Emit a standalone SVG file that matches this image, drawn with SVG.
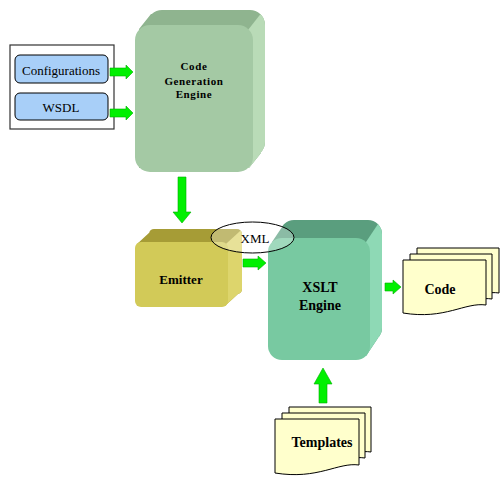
<svg xmlns="http://www.w3.org/2000/svg" width="500" height="483" viewBox="0 0 500 483">
<style>
.lbl{font-family:"Liberation Serif","DejaVu Serif",serif;fill:#000}
.b{font-weight:bold;text-anchor:middle}
.arr{fill:#00f000;stroke:#00b000;stroke-width:0.6}
.page{fill:#ffffcc;stroke:#000;stroke-width:1}
.cfg{fill:#a8cff8;stroke:#000;stroke-width:1}
</style>
<defs>
<clipPath id="cgBack"><rect x="147" y="10" width="118" height="147" rx="15"/><polygon points="139,29 151,14 261,14 261,153 249,168 139,168"/></clipPath>
<clipPath id="emBack"><rect x="149" y="229" width="93" height="65" rx="5"/><polygon points="137,244 151,231 240,231 240,292 226,305 137,305"/></clipPath>
<clipPath id="xsBack"><rect x="280" y="220" width="102" height="122" rx="14"/><polygon points="272,242 284,224 378,224 378,338 366,356 272,356"/></clipPath>
</defs>
<rect width="500" height="483" fill="#fff"/>

<g id="inputs">
<rect x="10" y="45" width="104" height="84" fill="#fff" stroke="#333" stroke-width="1.2"/>
</g>
<g id="configurations">
<rect class="cfg" x="15" y="55" width="93" height="28" rx="5"/>
<text class="lbl" x="61" y="75" font-size="13" text-anchor="middle">Configurations</text>
</g>
<g id="wsdl">
<rect class="cfg" x="15" y="93" width="93" height="27" rx="5"/>
<text class="lbl" x="61" y="112" font-size="13" text-anchor="middle">WSDL</text>
</g>

<g id="codegen">
<g clip-path="url(#cgBack)">
<rect x="130" y="0" width="150" height="180" fill="#8fb48f"/>
<polygon points="237,44 270,2 290,2 290,190 237,190" fill="#b9dbb7"/>
</g>
<rect x="135" y="25" width="118" height="147" rx="15" fill="#a4c9a4"/>
<text class="lbl b" x="194" y="70" font-size="11" letter-spacing="0.6">Code</text>
<text class="lbl b" x="194" y="85" font-size="11" letter-spacing="0.6">Generation</text>
<text class="lbl b" x="194" y="98" font-size="11" letter-spacing="0.6">Engine</text>
</g>

<g id="emitter">
<g clip-path="url(#emBack)">
<rect x="130" y="220" width="120" height="95" fill="#a69c36"/>
<polygon points="215,254 250,222 260,222 260,320 215,320" fill="#ddd56c"/>
</g>
<rect x="135" y="242" width="93" height="65" rx="6" fill="#d2ca58"/>
<text class="lbl b" x="181" y="284" font-size="13">Emitter</text>
</g>

<g id="xslt">
<g clip-path="url(#xsBack)">
<rect x="265" y="210" width="125" height="155" fill="#5a9e7e"/>
<polygon points="354,260 390,206 400,206 400,370 354,370" fill="#8ed9b5"/>
</g>
<rect x="268" y="238" width="102" height="122" rx="14" fill="#78c9a1"/>
<text class="lbl b" x="320" y="292" font-size="14">XSLT</text>
<text class="lbl b" x="320" y="310" font-size="14">Engine</text>
</g>

<g id="xml">
<ellipse cx="252.5" cy="237.5" rx="41.5" ry="15.5" fill="#fff" fill-opacity="0.3" stroke="#000" stroke-width="1"/>
<text class="lbl" x="255" y="243" font-size="13" text-anchor="middle">XML</text>
</g>

<g id="code">
<path class="page" d="M417,248 H499 V293 C480,290 460,305 417,300 Z"/>
<path class="page" d="M410,254 H492 V299 C473,296 453,311 410,306 Z"/>
<path class="page" d="M403,260 H486 V305 C465,302 445,320 403,313 Z"/>
<text class="lbl b" x="440" y="294" font-size="14">Code</text>
</g>

<g id="templates">
<path class="page" d="M289,407 H371 V452 C352,449 332,464 289,459 Z"/>
<path class="page" d="M282,413 H365 V458 C345,455 325,470 282,465 Z"/>
<path class="page" d="M275,419 H359 V465 C338,462 318,480 275,473 Z"/>
<text class="lbl b" x="322" y="447" font-size="14">Templates</text>
</g>

<g id="connectors">
<polygon class="arr" points="110,68 126,68 126,65 133,72 126,79 126,76 110,76"/>
<polygon class="arr" points="110,109 126,109 126,106 133,113 126,120 126,117 110,117"/>
<polygon class="arr" points="178,177 186,177 186,212 191,212 182,223 173,212 178,212"/>
<polygon class="arr" points="243,259 258,259 258,256 266,263 258,270 258,267 243,267"/>
<polygon class="arr" points="385,283 393,283 393,280 401,287 393,294 393,291 385,291"/>
<polygon class="arr" points="319,403 327,403 327,384 332,384 323,368 314,384 319,384"/>
</g>
</svg>
